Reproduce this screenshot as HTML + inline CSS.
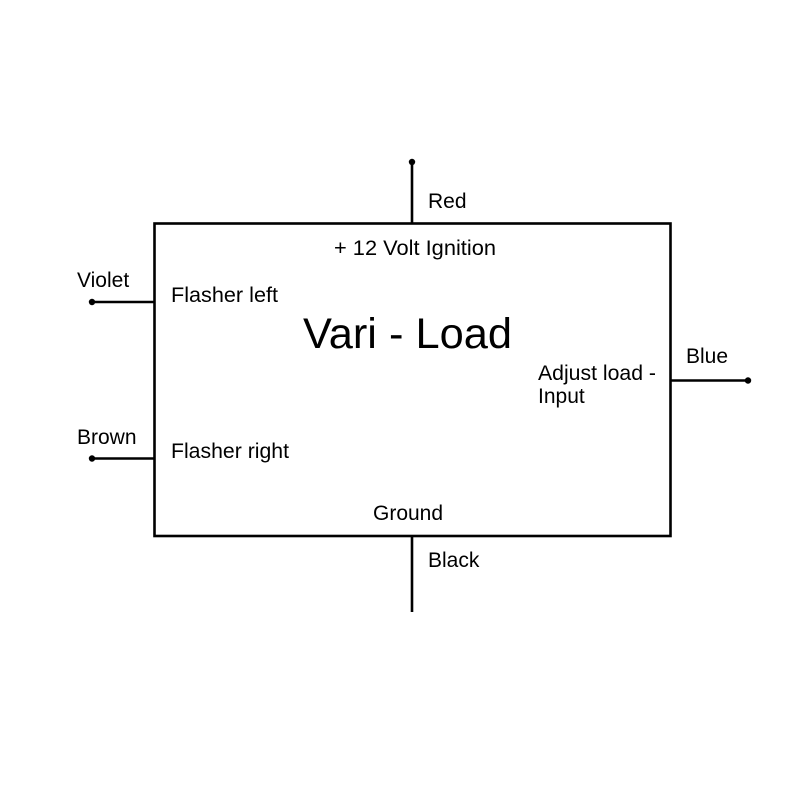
<!DOCTYPE html>
<html>
<head>
<meta charset="utf-8">
<style>
  html, body { margin:0; padding:0; background:#fff; }
  svg { display:block; }
  text { font-family: "Liberation Sans", Arial, sans-serif; fill:#000; }
</style>
</head>
<body>
<svg width="800" height="800" viewBox="0 0 800 800" xmlns="http://www.w3.org/2000/svg">
  <rect x="0" y="0" width="800" height="800" fill="#fff"/>
  <g stroke="#000" stroke-width="2.6" fill="none">
    <rect x="154.5" y="223.5" width="516" height="312.5"/>
    <line x1="412" y1="162" x2="412" y2="223.5"/>
    <line x1="92" y1="302" x2="154.5" y2="302"/>
    <line x1="92" y1="458.5" x2="154.5" y2="458.5"/>
    <line x1="670.5" y1="380.5" x2="748" y2="380.5"/>
    <line x1="412" y1="536" x2="412" y2="612"/>
  </g>
  <g fill="#000">
    <circle cx="412" cy="162" r="3.2"/>
    <circle cx="92" cy="302" r="3.2"/>
    <circle cx="92" cy="458.5" r="3.2"/>
    <circle cx="748" cy="380.5" r="3.2"/>
  </g>
  <g font-size="21">
    <text x="428" y="208">Red</text>
    <text x="334" y="255" textLength="162" lengthAdjust="spacingAndGlyphs">+ 12 Volt Ignition</text>
    <text x="77" y="287">Violet</text>
    <text x="171" y="302" textLength="107" lengthAdjust="spacingAndGlyphs">Flasher left</text>
    <text x="77" y="444">Brown</text>
    <text x="171" y="458" textLength="118" lengthAdjust="spacingAndGlyphs">Flasher right</text>
    <text x="686" y="363">Blue</text>
    <text x="538" y="380" textLength="118" lengthAdjust="spacingAndGlyphs">Adjust load -</text>
    <text x="538" y="403">Input</text>
    <text x="373" y="520">Ground</text>
    <text x="428" y="567">Black</text>
  </g>
  <text x="303" y="348" font-size="42.5" textLength="209" lengthAdjust="spacingAndGlyphs">Vari - Load</text>
</svg>
</body>
</html>
